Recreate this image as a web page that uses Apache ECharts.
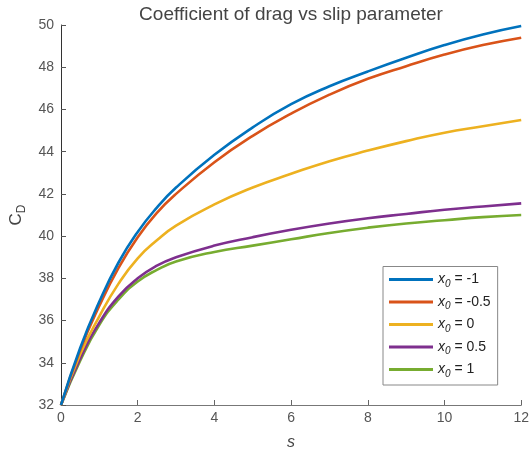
<!DOCTYPE html>
<html>
<head>
<meta charset="utf-8">
<script src="https://cdn.jsdelivr.net/npm/echarts@6/dist/echarts.min.js"></script>
<style>html,body{margin:0;padding:0;background:#fff}#c{width:532px;height:456px}</style>
</head>
<body>
<div id="c"></div>
<script>
var sValues = [0, 0.5, 1, 1.5, 2, 2.5, 3, 4, 5, 6, 7, 8, 9, 10, 11, 12];
var seriesNames = ['-1', '-0.5', '0', '0.5', '1'];
var cdXm1  = [32, 34.7, 36.9, 38.75, 40.2, 41.35, 42.3, 43.85, 45.15, 46.25, 47.1, 47.8, 48.45, 49.05, 49.55, 49.95];
var cdXm05 = [32, 34.6, 36.7, 38.5, 39.95, 41.1, 42.0, 43.5, 44.75, 45.8, 46.7, 47.45, 48.05, 48.6, 49.05, 49.4];
var cdX0   = [32, 34.4, 36.2, 37.75, 38.95, 39.8, 40.5, 41.5, 42.3, 42.95, 43.55, 44.05, 44.5, 44.9, 45.2, 45.5];
var cdX05  = [32, 34.2, 35.9, 37.15, 38.0, 38.6, 39.0, 39.55, 39.95, 40.3, 40.6, 40.85, 41.05, 41.25, 41.4, 41.55];
var cdX1   = [32, 34.1, 35.8, 37.0, 37.85, 38.4, 38.8, 39.25, 39.55, 39.85, 40.15, 40.4, 40.6, 40.75, 40.9, 41.0];
var yTicks = [32, 34, 36, 38, 40, 42, 44, 46, 48, 50];
var xTicks = [0, 2, 4, 6, 8, 10, 12];
var colors = ['#0072BD', '#D95319', '#EDB120', '#7E2F8E', '#77AC30'];
var allValues = [cdXm1, cdXm05, cdX0, cdX05, cdX1];

var chart = echarts.init(document.getElementById('c'), null, {renderer: 'canvas'});
var series = allValues.map(function (vals, i) {
  return {
    name: seriesNames[i],
    type: 'line',
    smooth: 0.5,
    showSymbol: false,
    symbol: 'none',
    lineStyle: {width: 2.6, color: colors[i]},
    itemStyle: {color: colors[i]},
    data: sValues.map(function (s, k) { return [s, vals[k]]; }),
    z: 10 - i
  };
});
var fontFam = 'Liberation Sans, Arial, sans-serif';
chart.setOption({
  animation: false,
  backgroundColor: '#fff',
  title: {
    text: 'Coefficient of drag vs slip parameter',
    left: 286, top: 0, textAlign: 'center',
    textStyle: {fontFamily: fontFam, fontSize: 19, fontWeight: 'normal', color: '#444'}
  },
  grid: {left: 61, right: 10, top: 25, bottom: 48},
  legend: {
    orient: 'vertical',
    left: 383, bottom: 71,
    padding: [6, 7, 6, 6],
    itemGap: 6,
    itemWidth: 44, itemHeight: 3,
    icon: 'rect',
    borderColor: '#888', borderWidth: 1, backgroundColor: '#fff',
    data: seriesNames,
    formatter: function (n) { return '{i|x}{s|0}{t| = ' + n + '}'; },
    textStyle: {
      fontFamily: fontFam, fontSize: 14, color: '#222',
      rich: {
        i: {fontFamily: fontFam, fontSize: 14, fontStyle: 'italic', color: '#222'},
        s: {fontFamily: fontFam, fontSize: 10, fontStyle: 'italic', color: '#222', padding: [9, 0, 0, 0]},
        t: {fontFamily: fontFam, fontSize: 14, color: '#222'}
      }
    }
  },
  xAxis: {
    type: 'value', min: 0, max: 12, interval: 2,
    name: 's', nameLocation: 'middle', nameGap: 30,
    nameTextStyle: {fontFamily: fontFam, fontSize: 16, fontStyle: 'italic', color: '#444'},
    axisLine: {lineStyle: {color: '#777', width: 1.2}},
    axisTick: {inside: true, length: 5, lineStyle: {color: '#666'}},
    axisLabel: {fontFamily: fontFam, fontSize: 14, color: '#555', margin: 6,
      formatter: function (v) { return xTicks.indexOf(v) >= 0 ? String(v) : ''; }},
    splitLine: {show: false}
  },
  yAxis: {
    type: 'value', min: 32, max: 50, interval: 2,
    name: '{c|C}{d|D}', nameLocation: 'middle', nameGap: 30, nameRotate: 90,
    nameTextStyle: {
      fontFamily: fontFam, color: '#444',
      rich: {
        c: {fontFamily: fontFam, fontSize: 17, color: '#444'},
        d: {fontFamily: fontFam, fontSize: 12, color: '#444', padding: [10, 0, 0, 0]}
      }
    },
    axisLine: {show: true, lineStyle: {color: '#333', width: 1}},
    axisTick: {show: true, inside: true, length: 5, lineStyle: {color: '#555'}},
    axisLabel: {fontFamily: fontFam, fontSize: 14, color: '#555', margin: 7,
      formatter: function (v) { return yTicks.indexOf(v) >= 0 ? String(v) : ''; }},
    splitLine: {show: false}
  },
  series: series
});
</script>
</body>
</html>
